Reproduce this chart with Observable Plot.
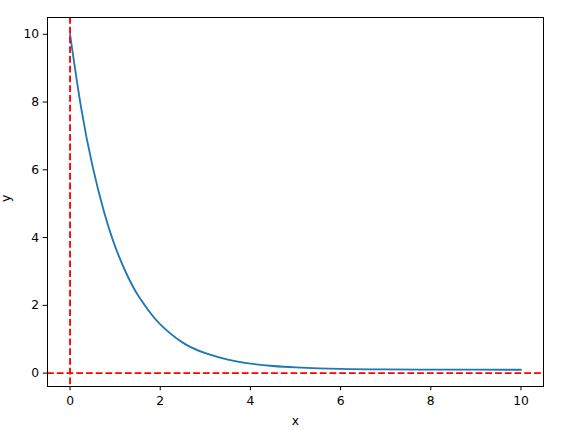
<!DOCTYPE html>
<html>
<head>
<meta charset="utf-8">
<script src="https://cdn.jsdelivr.net/npm/d3@7"></script>
<script src="https://cdn.jsdelivr.net/npm/@observablehq/plot@0.6"></script>
<style>
  html, body { margin: 0; padding: 0; background: #fff; }
  #chart svg { display: block; }
</style>
</head>
<body>
<div id="chart"></div>
<script>
// Values
const xValues = [0, 0.25, 0.5, 0.75, 1.0, 1.25, 1.5, 1.75, 2.0, 2.5, 3.0, 3.5, 4.0, 4.5, 5.0, 6.0, 7.0, 8.0, 9.0, 10.0];
const yValues = [10.0, 7.8, 6.1, 4.78, 3.74, 2.94, 2.31, 1.83, 1.44, 0.9, 0.59, 0.4, 0.28, 0.21, 0.17, 0.125, 0.11, 0.103, 0.101, 0.1];
const xTicks = [0, 2, 4, 6, 8, 10];
const yTicks = [0, 2, 4, 6, 8, 10];
const refX = [0];
const refY = [0];

const data = xValues.map((x, i) => ({x, y: yValues[i]}));

const font = "DejaVu Sans, sans-serif";
const chart = Plot.plot({
  width: 565,
  height: 430,
  marginLeft: 47,
  marginRight: 22,
  marginTop: 17,
  marginBottom: 44,
  style: {fontFamily: font, fontSize: "12.3px", color: "black", background: "white"},
  x: {domain: [-0.5, 10.5]},
  y: {domain: [-0.395, 10.495]},
  marks: [
    Plot.line(data, {x: "x", y: "y", stroke: "#1f77b4", strokeWidth: 1.84, curve: "natural"}),
    Plot.ruleX(refX, {stroke: "red", strokeWidth: 1.84, strokeDasharray: "6.8,2.94"}),
    Plot.ruleY(refY, {stroke: "red", strokeWidth: 1.84, strokeDasharray: "6.8,2.94"}),
    Plot.frame({stroke: "black", strokeWidth: 1}),
    Plot.axisX(xTicks, {tickSize: 4.3, tickPadding: 5, label: null, fontSize: 12.3, stroke: "black"}),
    Plot.axisY(yTicks, {tickSize: 4.3, tickPadding: 4, label: null, fontSize: 12.3, stroke: "black"}),
    Plot.text(["x"], {frameAnchor: "bottom", dy: 38, text: d => d, fontSize: 12.3, fill: "black"}),
    Plot.text(["y"], {frameAnchor: "left", dx: -41, text: d => d, rotate: -90, fontSize: 12.3, fill: "black"})
  ]
});
document.getElementById("chart").appendChild(chart);
</script>
</body>
</html>
